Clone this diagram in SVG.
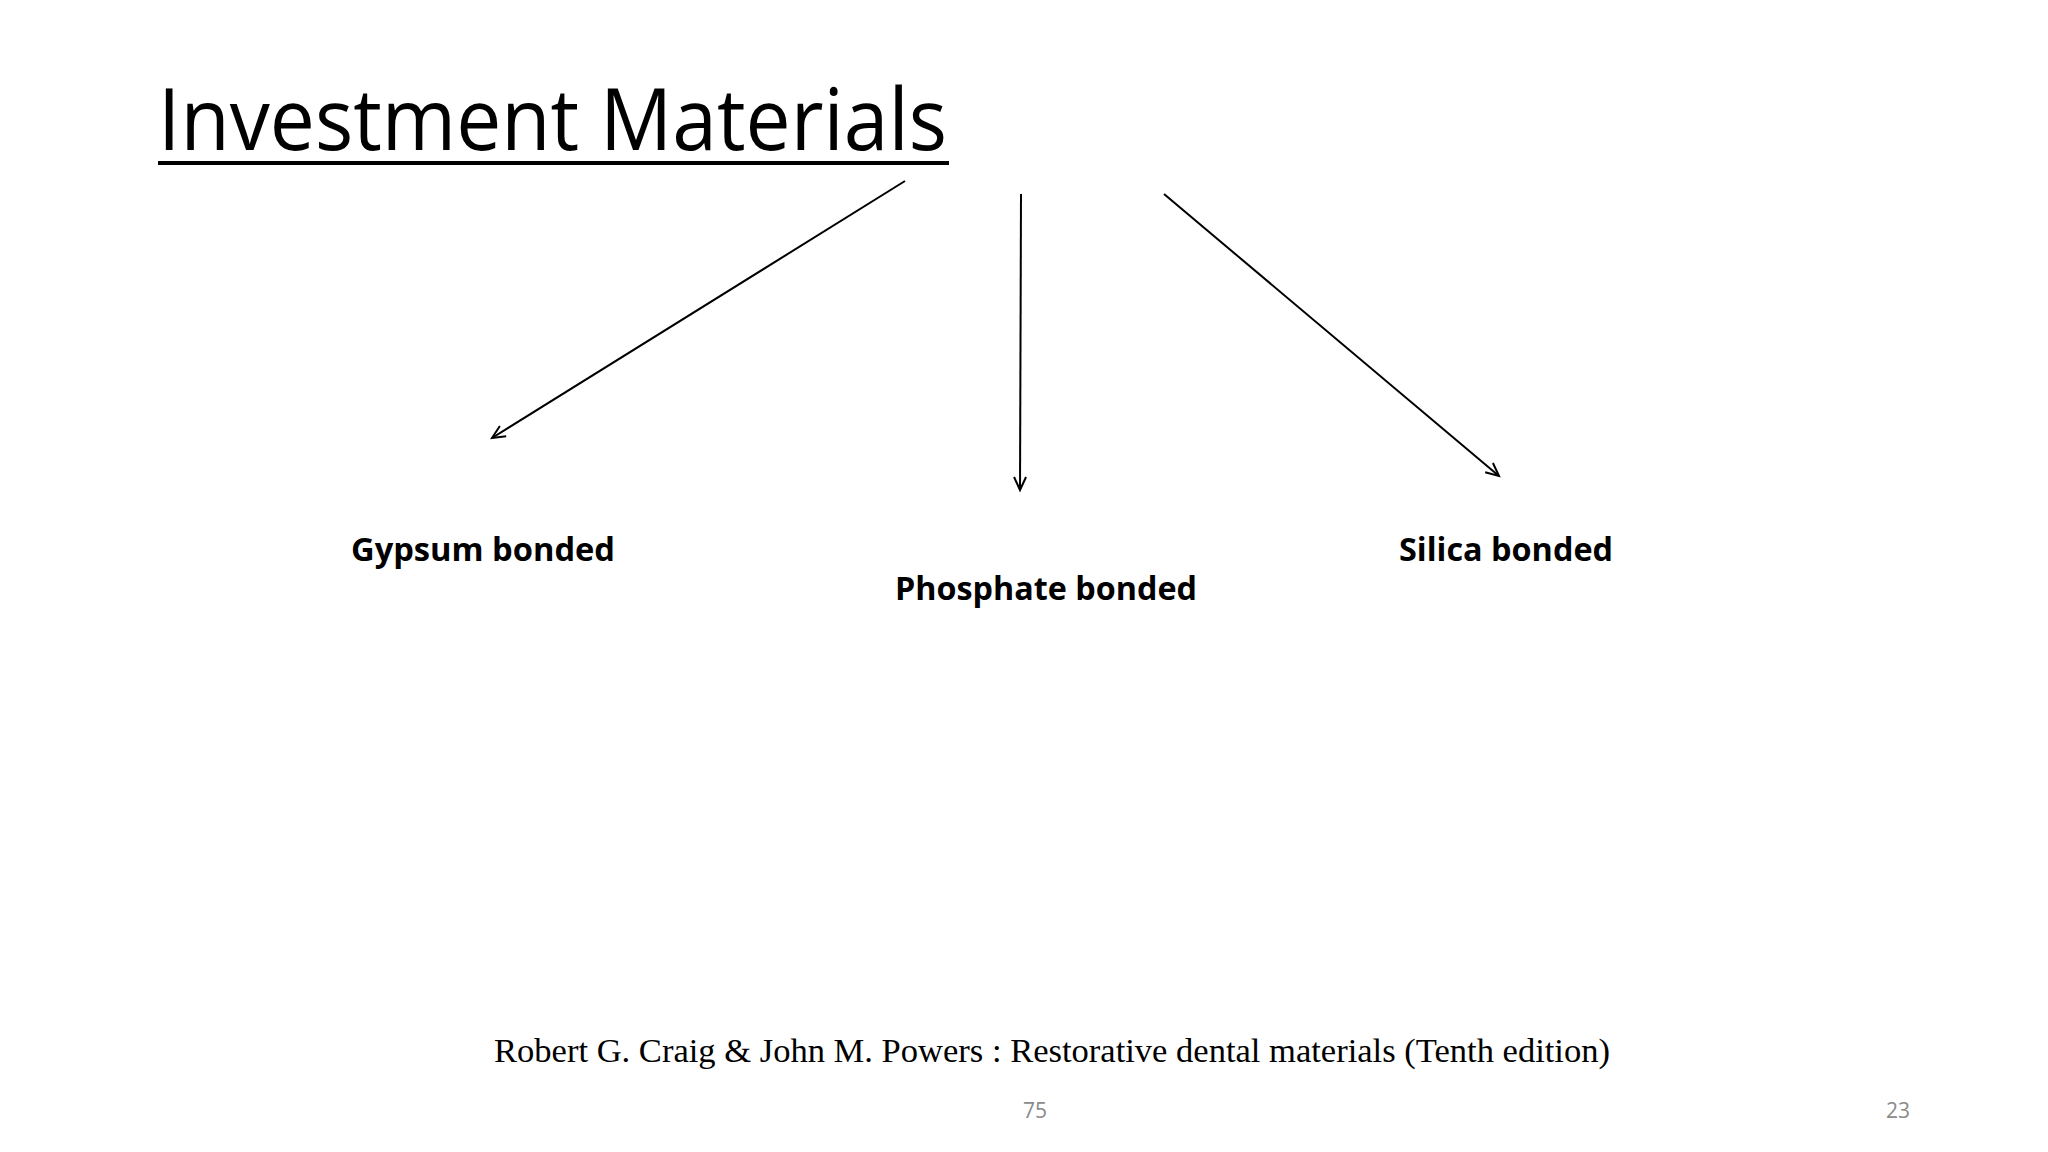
<svg xmlns="http://www.w3.org/2000/svg" width="2048" height="1152" viewBox="0 0 2048 1152">
<style>
.lbl{font-family:"Open Sans","Liberation Sans",sans-serif;font-weight:bold;font-size:32px;fill:#000}
.pg{font-family:"Open Sans","Liberation Sans",sans-serif;font-size:21px;fill:#8a8a8a;text-anchor:middle}
.c{stroke:#000;stroke-width:2;fill:none;marker-end:url(#a)}
</style>
<defs><marker id="a" markerWidth="20" markerHeight="20" refX="14" refY="7" orient="auto" markerUnits="userSpaceOnUse"><path d="M1,1 L14,7 L1,13" fill="none" stroke="#000" stroke-width="2"/></marker></defs>
<rect width="2048" height="1152" fill="#fff"/>
<g id="title"><text x="158" y="150" font-family="Open Sans, Liberation Sans, sans-serif" font-size="86" textLength="789" lengthAdjust="spacingAndGlyphs">Investment Materials</text><rect x="158" y="161" width="791" height="4" fill="#000"/></g>
<g id="connectors">
<line class="c" x1="905" y1="181" x2="492" y2="438"/>
<line class="c" x1="1021" y1="194" x2="1020" y2="490"/>
<line class="c" x1="1164" y1="194" x2="1499" y2="476"/>
</g>
<g id="gypsum"><text class="lbl" x="351" y="561" textLength="264" lengthAdjust="spacingAndGlyphs">Gypsum bonded</text></g>
<g id="phosphate"><text class="lbl" x="895" y="600" textLength="302" lengthAdjust="spacingAndGlyphs">Phosphate bonded</text></g>
<g id="silica"><text class="lbl" x="1399" y="561" textLength="214" lengthAdjust="spacingAndGlyphs">Silica bonded</text></g>
<text x="494" y="1062" font-family="Liberation Serif, serif" font-size="33" textLength="1116" lengthAdjust="spacingAndGlyphs">Robert G. Craig &amp; John M. Powers : Restorative dental materials (Tenth edition)</text>
<text class="pg" x="1035" y="1118">75</text>
<text class="pg" x="1898" y="1118">23</text>
</svg>
